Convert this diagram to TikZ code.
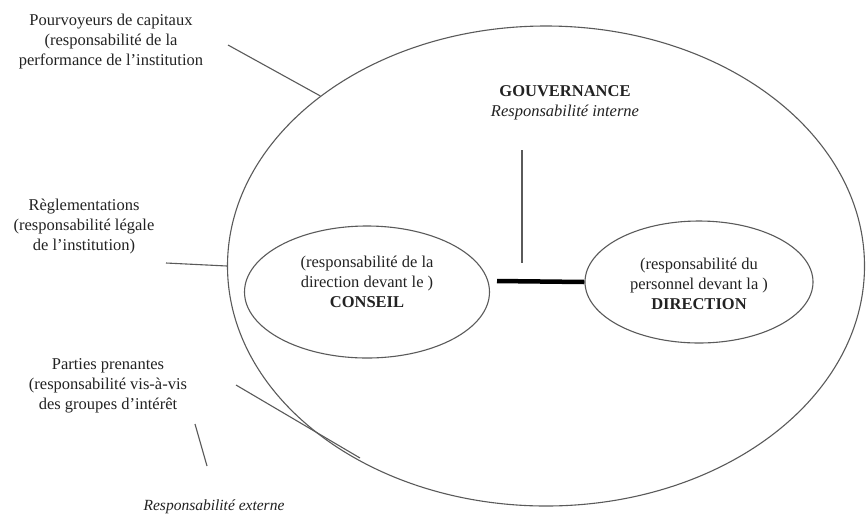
\documentclass[tikz,border=0pt]{standalone}
\usepackage{fontspec}
\setmainfont{Liberation Serif}
\usetikzlibrary{shapes.geometric}
\definecolor{linegray}{HTML}{5A5A5A}
\definecolor{txt}{HTML}{222222}
\tikzset{
  txtnode/.style={align=center, inner sep=0pt, text=txt, font=\fontsize{16.5}{20}\selectfont},
  oval/.style={ellipse, draw=linegray, line width=1.1pt, inner sep=0pt},
  thin/.style={draw=linegray, line width=1.1pt},
  thick/.style={draw=black, line width=4.5pt},
}
\begin{document}
\begin{tikzpicture}[x=1pt, y=-1pt]
\useasboundingbox (0,0) rectangle (867,515);
\fill[white] (0,0) rectangle (867,515);

% ellipses
\node[oval, minimum width=637pt, minimum height=480pt] (outer) at (546,266) {};
\node[oval, minimum width=245pt, minimum height=132pt] (conseil) at (367,292) {};
\node[oval, minimum width=228pt, minimum height=122pt] (direction) at (699,282) {};

% texts inside
\node[txtnode] (gouv) at (565,103) {\textbf{GOUVERNANCE}\\ \textit{Responsabilité interne}};
\node[txtnode] (tconseil) at (367,282) {(responsabilité de la\\ direction devant le )\\ \textbf{CONSEIL}};
\node[txtnode] (tdirection) at (699,284) {(responsabilité du\\ personnel devant la )\\ \textbf{DIRECTION}};

% texts outside
\node[txtnode] (pourv) at (111,42) {Pourvoyeurs de capitaux\\ (responsabilité de la\\ performance de l'institution};
\node[txtnode] (regl) at (84,227) {Règlementations\\ (responsabilité légale\\ de l'institution)};
\node[txtnode] (parties) at (108,386) {Parties prenantes\\ (responsabilité vis-à-vis\\ des groupes d'intérêt};
\node[txtnode, font=\fontsize{15.5}{19}\selectfont] (externe) at (214,507) {\textit{Responsabilité externe}};

% free ends
\coordinate (p1) at (228,45);
\coordinate (r1) at (166,263);
\coordinate (s1) at (236,385);
\coordinate (s2) at (360,458);
\coordinate (e1) at (195,424);
\coordinate (e2) at (207,466);
\coordinate (v1) at (522,150);
\coordinate (v2) at (522,263);
\coordinate (h1) at (497,281);

% connectors
\draw[thin] (p1) -- (outer.143);
\draw[thin] (r1) -- (outer.180);
\draw[thin] (s1) -- (s2);
\draw[thin] (e1) -- (e2);
\draw[thin] (v1) -- (v2);
\draw[thick] (h1) -- (direction.west);
\end{tikzpicture}
\end{document}
